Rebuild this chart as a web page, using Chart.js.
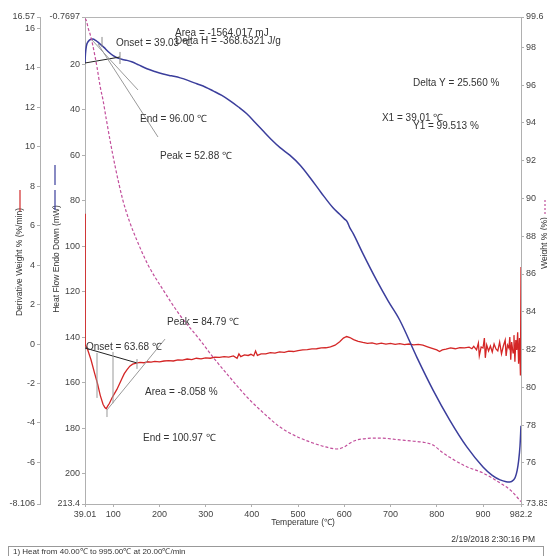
<!DOCTYPE html>
<html>
<head>
<meta charset="utf-8">
<script src="https://cdn.jsdelivr.net/npm/chart.js@4.4.1/dist/chart.umd.min.js"></script>
<style>
html,body{margin:0;padding:0;background:#fff;}
canvas{display:block;}
</style>
</head>
<body>
<canvas id="c" width="547" height="556"></canvas>
<script>
// ---- Tick labels ----
const xTicks = [39.01, 100, 200, 300, 400, 500, 600, 700, 800, 900, 982.2];
const derivTicks = [16.57, 16, 14, 12, 10, 8, 6, 4, 2, 0, -2, -4, -6, -8.106];
const heatTicks = [-0.7697, 20, 40, 60, 80, 100, 120, 140, 160, 180, 200, 213.4];
const weightTicks = [99.6, 98, 96, 94, 92, 90, 88, 86, 84, 82, 80, 78, 76, 73.83];

// ---- Heat flow (mW), blue ----
const hfTemp = [39.01,40,42,46,52,56,62,70,80,90,100,110,120,130,140,155,173,190,208,226,245,263,281,300,316,335,353,371,389,406,424,442,461,482,505,526,550,575,590,600,606,612,619,640,670,695,720,757,792,828,865,900,920,937,950,958,966,970,974,977,980,982.2];
const hfValue = [19.5,15.5,12.0,10.0,9.0,8.9,9.5,10.8,12.6,14.6,16.2,17.3,17.9,18.3,18.9,20.3,22.0,23.2,24.3,25.1,26.0,27.2,28.6,30.1,31.7,33.7,36.1,38.8,41.8,45.4,49.3,53.1,56.7,60.0,64.5,69.9,76.5,83.0,86.0,88.0,89.2,92.0,94.4,103.2,115.1,124.2,132.6,148.9,163.3,176.5,188.3,197.1,200.8,202.8,203.6,203.7,202.8,201.5,198.5,194.5,188,179];

// ---- Weight % (%), pink dotted ----
const wtTemp = [39.01,42,46,50,55,60,65,72,78,85,93,105,121,135,151,175,208,245,288,316,350,389,425,461,497,532,560,584,600,612,627,650,677,720,750,770,792,810,828,865,900,937,960,973.5,982.2];
const wtValue = [99.51,99.4,99.0,98.7,98.2,97.6,96.95,95.9,95.2,94.2,93.1,91.6,89.9,88.8,87.8,86.5,85.16,83.8,82.5,81.6,80.6,79.5,78.65,77.9,77.4,77.06,76.85,76.74,76.85,77.05,77.22,77.3,77.32,77.22,77.15,77.1,76.95,76.6,76.3,75.8,75.47,74.94,74.55,74.2,73.95];

// ---- Derivative weight % (%/min), red ----
const dwTemp = [39.01,39.5,45,52,60,66,72,78,82,85,88,92,97,103,108,113,118,124,130,136,142,150,158,166,174,182,190,200,210,220,230,240,250,260,270,280,290,300,310,320,330,340,350,360,368,372,376,384,392,398,404,408,412,420,430,440,450,460,470,480,490,500,510,520,530,540,550,560,570,580,590,598,605,612,620,630,640,650,660,670,680,690,700,710,720,730,740,750,760,770,780,790,800,806,812,820,830,840,850,860,870,876,880,886,890,892,896,900,903,905,908,912,916,920,924,928,932,936,940,944,948,950,953,956,958,960,962,965,967,969,971,973,975,977,979,981,982.2];
const dwValue = [6.6,-0.05,-0.3,-0.8,-1.5,-2.0,-2.6,-3.05,-3.22,-3.28,-3.15,-3.0,-2.75,-2.5,-2.3,-2.05,-1.8,-1.5,-1.3,-1.12,-1.02,-0.97,-0.93,-0.95,-0.9,-0.92,-0.88,-0.9,-0.86,-0.84,-0.86,-0.8,-0.82,-0.76,-0.79,-0.72,-0.75,-0.7,-0.72,-0.66,-0.68,-0.64,-0.66,-0.6,-0.72,-0.5,-0.64,-0.55,-0.58,-0.52,-0.6,-0.35,-0.58,-0.5,-0.5,-0.44,-0.46,-0.4,-0.42,-0.36,-0.38,-0.33,-0.3,-0.28,-0.25,-0.24,-0.2,-0.19,-0.14,-0.06,0.12,0.3,0.38,0.33,0.22,0.14,0.08,0.03,0.06,0.0,0.04,0.0,0.03,-0.02,0.02,-0.03,0.0,-0.04,-0.02,-0.06,-0.14,-0.22,-0.3,-0.38,-0.3,-0.26,-0.2,-0.24,-0.18,-0.2,-0.16,-0.24,-0.12,-0.3,0.05,-0.6,-0.15,-0.2,0.3,-0.7,-0.05,-0.35,-0.1,-0.4,0.0,-0.25,-0.35,0.1,-0.5,-0.1,0.2,-0.6,-0.05,-0.2,0.35,-0.8,0.1,-0.45,0.45,-0.9,0.2,-0.3,0.6,-1.0,0.3,-1.6,3.9];

// ---- Annotation texts (placed in temperature / heat-flow coordinates) ----
const noteText = ["Area = -1564.017 mJ","Delta H = -368.6321 J/g","Onset = 39.03 \u2103","End = 96.00 \u2103","Peak = 52.88 \u2103","Delta Y = 25.560 %","X1 = 39.01 \u2103","Y1 = 99.513 %","Peak = 84.79 \u2103","Onset = 63.68 \u2103","Area = -8.058 %","End = 100.97 \u2103"];
const noteTemp = [233.7,233.7,106.1,158.0,201.2,748.5,681.4,748.5,216.4,41.2,168.8,164.5];
const noteHeat = [6.27,9.78,10.66,44.09,60.36,28.26,43.65,47.17,133.4,144.4,164.2,184.4];

// ---- Analysis construction lines: [t1, v1, t2, v2, axis, colour] ----
const guideLines = [
  [39.01,19.46,114.7,16.82,'hf','#222'],
  [54.1,9.35,153.6,31.3,'hf','#999'],
  [67.1,11.1,196.9,52.0,'hf','#999'],
  [114.7,14.6,114.7,19.9,'hf','#888'],
  [75.8,8.0,75.8,12.4,'hf','#888'],
  [39.01,-0.2,151.5,-0.96,'dw','#222'],
  [86.6,-3.34,212.1,0.25,'dw','#999'],
  [65.0,-0.45,65.0,-2.73,'dw','#999'],
  [99.6,-0.4,99.6,-3.0,'dw','#999'],
  [151.5,-0.76,151.5,-1.26,'dw','#999'],
  [86.6,-3.34,86.6,-3.7,'dw','#999']
];

const pts = (xs, ys) => xs.map((x, i) => ({x: x, y: ys[i]}));
const FONT = "'Liberation Sans', Arial, sans-serif";

const extras = {
  id: 'extras',
  afterDatasetsDraw(chart) {
    const ctx = chart.ctx;
    const xs = chart.scales.x, hf = chart.scales.hf, dw = chart.scales.dw;
    const ca = chart.chartArea;
    ctx.save();
    ctx.strokeStyle = '#b5b5b5'; ctx.lineWidth = 1;
    ctx.beginPath(); ctx.moveTo(ca.left, ca.top + 0.5); ctx.lineTo(ca.right, ca.top + 0.5); ctx.stroke();
    guideLines.forEach(g => {
      const ys = g[4] === 'hf' ? hf : dw;
      ctx.strokeStyle = g[5]; ctx.lineWidth = 1;
      ctx.beginPath();
      ctx.moveTo(xs.getPixelForValue(g[0]), ys.getPixelForValue(g[1]));
      ctx.lineTo(xs.getPixelForValue(g[2]), ys.getPixelForValue(g[3]));
      ctx.stroke();
    });
    ctx.fillStyle = '#333';
    ctx.font = '10px ' + FONT;
    ctx.textAlign = 'left'; ctx.textBaseline = 'middle';
    noteText.forEach((t, i) => {
      ctx.fillText(t, xs.getPixelForValue(noteTemp[i]), hf.getPixelForValue(noteHeat[i]));
    });
    ctx.restore();
  },
  afterDraw(chart) {
    const ctx = chart.ctx;
    const ca = chart.chartArea;
    ctx.save();
    ctx.fillStyle = '#333';
    ctx.font = '8.5px ' + FONT;
    ctx.textBaseline = 'middle';
    const vtitle = (text, x, y) => {
      ctx.save(); ctx.translate(x, y); ctx.rotate(-Math.PI / 2);
      ctx.textAlign = 'center'; ctx.fillText(text, 0, 0); ctx.restore();
    };
    vtitle('Derivative Weight % (%/min)', 20, 262);
    vtitle('Heat Flow Endo Down (mW)', 57, 259);
    vtitle('Weight % (%)', 545, 243);
    ctx.lineWidth = 1.2;
    ctx.strokeStyle = '#d02a2a';
    ctx.beginPath(); ctx.moveTo(20, 190); ctx.lineTo(20, 211); ctx.stroke();
    ctx.strokeStyle = '#3b3e9c';
    ctx.setLineDash([20, 5]);
    ctx.beginPath(); ctx.moveTo(55, 165); ctx.lineTo(55, 210); ctx.stroke();
    ctx.strokeStyle = '#c0509a';
    ctx.setLineDash([2, 2]);
    ctx.beginPath(); ctx.moveTo(545, 200); ctx.lineTo(545, 214); ctx.stroke();
    ctx.setLineDash([]);
    ctx.textAlign = 'center';
    ctx.fillText('Temperature (\u2103)', (ca.left + ca.right) / 2, 523);
    ctx.textAlign = 'right';
    ctx.fillText('2/19/2018 2:30:16 PM', 535, 540);
    ctx.strokeStyle = '#999'; ctx.lineWidth = 1;
    ctx.strokeRect(8.5, 546.5, 535, 20);
    ctx.textAlign = 'left';
    ctx.font = '8px ' + FONT;
    ctx.fillText('1) Heat from 40.00\u2103 to 995.00\u2103 at 20.00\u2103/min', 13, 552);
    ctx.restore();
  }
};

const setTicks = arr => scale => { scale.ticks = arr.map(v => ({value: v})); };
const tickFont = {family: FONT, size: 9};
const axisCol = '#b0b0b0';

new Chart(document.getElementById('c'), {
  type: 'line',
  data: {
    datasets: [
      {label: 'Weight %', data: pts(wtTemp, wtValue), yAxisID: 'wt', borderColor: '#c24f9c', borderWidth: 1.2, borderDash: [3, 2], pointRadius: 0, cubicInterpolationMode: 'monotone', fill: false},
      {label: 'Heat Flow', data: pts(hfTemp, hfValue), yAxisID: 'hf', borderColor: '#3b3e9c', borderWidth: 1.5, pointRadius: 0, cubicInterpolationMode: 'monotone', fill: false},
      {label: 'Derivative Weight', data: pts(dwTemp, dwValue), yAxisID: 'dw', borderColor: '#d42626', borderWidth: 1.3, pointRadius: 0, tension: 0, fill: false}
    ]
  },
  options: {
    responsive: false,
    animation: false,
    devicePixelRatio: 1,
    layout: {padding: {top: 17, bottom: 32, left: 0, right: 0}},
    plugins: {legend: {display: false}, tooltip: {enabled: false}},
    scales: {
      x: {
        type: 'linear', min: 39.01, max: 982.2,
        afterBuildTicks: setTicks(xTicks),
        afterFit: s => { s.height = 20; },
        grid: {drawOnChartArea: false, tickLength: 3, color: axisCol},
        border: {color: axisCol},
        ticks: {font: tickFont, color: '#444', padding: 2, maxRotation: 0, autoSkip: false, callback: v => String(v)}
      },
      dw: {
        position: 'left', weight: 1, min: -8.106, max: 16.57,
        afterBuildTicks: setTicks(derivTicks),
        afterFit: s => { s.width = 40; },
        grid: {drawOnChartArea: false, tickLength: 3, color: axisCol},
        border: {color: axisCol},
        ticks: {font: tickFont, color: '#444', padding: 2, autoSkip: false, callback: v => String(v)}
      },
      hf: {
        position: 'left', weight: 0, min: -0.7697, max: 213.4, reverse: true,
        afterBuildTicks: setTicks(heatTicks),
        afterFit: s => { s.width = 45; },
        grid: {drawOnChartArea: false, tickLength: 3, color: axisCol},
        border: {color: axisCol},
        ticks: {font: tickFont, color: '#444', padding: 2, autoSkip: false, callback: v => String(v)}
      },
      wt: {
        position: 'right', min: 73.83, max: 99.6,
        afterBuildTicks: setTicks(weightTicks),
        afterFit: s => { s.width = 26; },
        grid: {drawOnChartArea: false, tickLength: 3, color: axisCol},
        border: {color: axisCol},
        ticks: {font: tickFont, color: '#444', padding: 2, autoSkip: false, callback: v => String(v)}
      }
    }
  },
  plugins: [extras]
});
</script>
</body>
</html>
